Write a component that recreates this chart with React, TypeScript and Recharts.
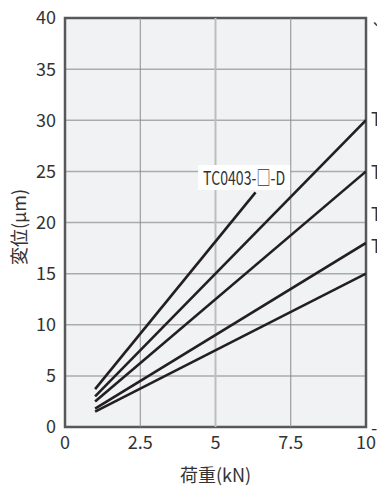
import React from 'react';
import {
  LineChart,
  Line,
  XAxis,
  YAxis,
  CartesianGrid,
  ReferenceLine,
  ReferenceArea,
  ReferenceDot,
} from 'recharts';

const FONT = '"Noto Sans CJK JP", "Noto Sans", sans-serif';

// Axis ticks
const xTicks = [0, 2.5, 5, 7.5, 10];
const yTicks = [0, 5, 10, 15, 20, 25, 30, 35, 40];
const vGridThin = [2.5, 7.5];
const vGridThick = [5];

// Series (load kN -> displacement µm)
const seriesD = [
  { x: 1, y: 3.7 },
  { x: 6.33, y: 22.95 },
];
const seriesC = [
  { x: 1, y: 3.0 },
  { x: 10, y: 30 },
];
const seriesB = [
  { x: 1, y: 2.5 },
  { x: 10, y: 25 },
];
const seriesA = [
  { x: 1, y: 1.8 },
  { x: 10, y: 18 },
];
const seriesS = [
  { x: 1, y: 1.5 },
  { x: 10, y: 15 },
];

const seriesNames = ['TC0403-□-D', 'TC0403-□-C', 'TC0403-□-B', 'TC0403-□-A', 'TC0403-□-S'];
const seriesData = [seriesD, seriesC, seriesB, seriesA, seriesS];

// Annotations
const insideLabel = { text: 'TC0403-□-D', x: 5.95, y: 24.45 };
const edgeLabelTexts = ['TC0403-□-C', 'TC0403-□-B', 'TC0403-□-A', 'TC0403-□-S', '`', '-'];
const edgeLabelY = [30.2, 25.0, 20.9, 17.8, 38.8, 0];

const xLabel = '荷重(kN)';
const yLabel = '変位(μm)';

const LINE_COLOR = '#231f20';

export default function App() {
  return (
    <div style={{ position: 'absolute', left: 0, top: 0, width: 377, height: 486, background: '#fff' }}>
      <LineChart
        width={377}
        height={486}
        margin={{ top: 18, right: 11, left: 0, bottom: 0 }}
      >
        <CartesianGrid
          vertical={false}
          stroke="#ababab"
          strokeWidth={1.5}
          fill="#f1f2f4"
          fillOpacity={1}
        />
        {vGridThin.map((v) => (
          <ReferenceLine key={'t' + v} x={v} stroke="#8c8c8c" strokeWidth={1} />
        ))}
        {vGridThick.map((v) => (
          <ReferenceLine key={'k' + v} x={v} stroke="#bdbdbd" strokeWidth={2} />
        ))}
        <XAxis
          type="number"
          dataKey="x"
          domain={[0, 10]}
          ticks={xTicks}
          allowDataOverflow
          axisLine={false}
          tickLine={false}
          tickSize={0}
          tickMargin={9}
          height={59}
          interval={0}
          tick={{ fontSize: 18, fill: '#333', fontFamily: FONT }}
          label={(props: any) => {
            const vb = props && props.viewBox ? props.viewBox : { x: 65, width: 301 };
            const cx = vb.x + vb.width / 2;
            return (
              <text
                x={cx}
                y={474}
                textAnchor="middle"
                dominantBaseline="central"
                fontSize={18}
                fill="#333"
                fontFamily={FONT}
              >
                {xLabel}
              </text>
            );
          }}
        />
        <YAxis
          type="number"
          dataKey="y"
          domain={[0, 40]}
          ticks={yTicks}
          allowDataOverflow
          axisLine={false}
          tickLine={false}
          tickSize={0}
          tickMargin={9}
          width={65}
          interval={0}
          tick={{ fontSize: 18, fill: '#333', fontFamily: FONT }}
          label={() => (
            <text
              x={17.5}
              y={227}
              transform="rotate(-90 17.5 227)"
              textAnchor="middle"
              dominantBaseline="central"
              fontSize={18}
              fill="#333"
              fontFamily={FONT}
              textLength={76}
              lengthAdjust="spacing"
            >
              {yLabel}
            </text>
          )}
        />
        {seriesData.map((d, i) => (
          <Line
            key={seriesNames[i]}
            data={d}
            dataKey="y"
            name={seriesNames[i]}
            type="linear"
            stroke={LINE_COLOR}
            strokeWidth={2.6}
            dot={false}
            activeDot={false}
            isAnimationActive={false}
          />
        ))}
        <ReferenceArea
          x1={0}
          x2={10}
          y1={0}
          y2={40}
          fill="none"
          fillOpacity={0}
          stroke="#58585a"
          strokeWidth={2.5}
          ifOverflow="visible"
        />
        <ReferenceDot
          x={insideLabel.x}
          y={insideLabel.y}
          r={0}
          ifOverflow="visible"
          shape={(p: any) => (
            <g>
              <rect x={p.cx - 46} y={p.cy - 12} width={92} height={25} fill="#ffffff" />
              <text
                x={p.cx - 41}
                y={p.cy}
                textAnchor="start"
                dominantBaseline="central"
                fontSize={19}
                fill="#333"
                fontFamily={FONT}
                textLength={82}
                lengthAdjust="spacingAndGlyphs"
              >
                {insideLabel.text}
              </text>
            </g>
          )}
        />
        {edgeLabelTexts.map((t, i) => (
          <ReferenceDot
            key={'e' + i}
            x={10}
            y={edgeLabelY[i]}
            r={0}
            ifOverflow="visible"
            shape={(p: any) => (
              <text
                x={p.cx + 5}
                y={p.cy}
                textAnchor="start"
                dominantBaseline="central"
                fontSize={18}
                fill="#333"
                fontFamily={FONT}
              >
                {t}
              </text>
            )}
          />
        ))}
      </LineChart>
    </div>
  );
}
